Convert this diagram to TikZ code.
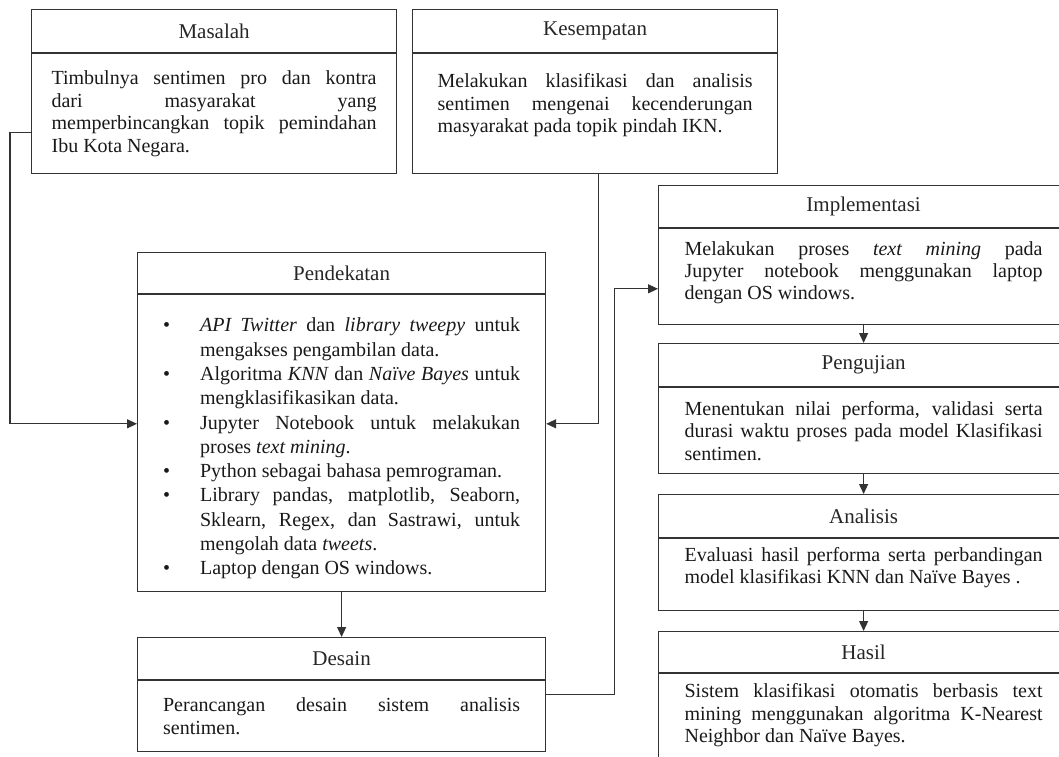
\documentclass[tikz,border=0pt]{standalone}
\usepackage{fontspec}
\setmainfont{Liberation Serif}
\usepackage{enumitem}
\usetikzlibrary{arrows.meta,calc,positioning}

\tikzset{
  head/.style={draw=black!80, line width=1.2pt, anchor=north west, minimum width=#1,
    minimum height=43pt, inner sep=0pt, text=black!85, font=\fontsize{21}{24}\selectfont},
  body/.style={draw=black!80, line width=1.2pt, anchor=north, text width=#1, inner ysep=0pt,
    align=justify, text=black!90, font=\fontsize{20}{22.4}\selectfont},
  lift/.style={execute at end node={\par\vspace*{#1}}},
  arr/.style={draw=black!80, line width=1.2pt, -{Triangle[length=10pt,width=9pt]}}
}

\begin{document}
\begin{tikzpicture}[x=1pt, y=-1pt]
  \useasboundingbox (0,0) rectangle (1059,756);
  \clip (0,0) rectangle (1059,756);

  % Masalah
  \node[head=365pt] (masalah) at (31,9) {Masalah};
  \node[body=325pt, inner xsep=20pt, minimum height=120pt] (masalahtxt) at (masalah.south)
    {Timbulnya sentimen pro dan kontra\linebreak dari masyarakat yang\linebreak
     memperbincangkan topik pemindahan\linebreak Ibu Kota Negara.};

  % Kesempatan
  \node[head=365pt] (kesempatan) at (412,9) {Kesempatan};
  \node[body=315pt, inner xsep=25pt, minimum height=120pt, lift=17pt] (kesempatantxt) at (kesempatan.south)
    {Melakukan klasifikasi dan analisis\linebreak sentimen mengenai kecenderungan\linebreak
     masyarakat pada topik pindah IKN.};

  % Pendekatan
  \node[head=408pt, minimum height=41pt] (pendekatan) at (137,252) {Pendekatan};
  \node[body=357pt, inner xsep=25.5pt, minimum height=297pt,
    font=\fontsize{20}{24.3}\selectfont] (pendekatantxt) at (pendekatan.south)
    {\begin{itemize}[leftmargin=37pt, labelwidth=10pt, labelsep=27pt, align=left, nosep]
      \item \textit{API Twitter} dan \textit{library tweepy} untuk\linebreak mengakses pengambilan data.
      \item Algoritma \textit{KNN} dan \textit{Naïve Bayes} untuk\linebreak mengklasifikasikan data.
      \item Jupyter Notebook untuk melakukan\linebreak proses \textit{text mining}.
      \item Python sebagai bahasa pemrograman.
      \item Library pandas, matplotlib, Seaborn,\linebreak Sklearn, Regex, dan Sastrawi, untuk\linebreak
            mengolah data \textit{tweets}.
      \item Laptop dengan OS windows.
     \end{itemize}};

  % Desain
  \node[head=408pt, minimum height=42pt] (desain) at (137,637) {Desain};
  \node[body=357pt, inner xsep=25.5pt, minimum height=71pt] (desaintxt) at (desain.south)
    {\rightskip=16pt Perancangan desain sistem analisis\linebreak sentimen.};

  % Implementasi
  \node[head=410pt, minimum height=42pt] (implementasi) at (658,185) {Implementasi};
  \node[body=358pt, inner xsep=26pt, minimum height=96pt, lift=8pt] (implementasitxt) at (implementasi.south)
    {\rightskip=16pt Melakukan proses \textit{text mining} pada\linebreak
     Jupyter notebook menggunakan laptop\linebreak dengan OS windows.};

  % Pengujian
  \node[head=410pt] (pengujian) at (658,343) {Pengujian};
  \node[body=358pt, inner xsep=26pt, minimum height=86pt] (pengujiantxt) at (pengujian.south)
    {Menentukan nilai performa, validasi serta\linebreak
     durasi waktu proses pada model Klasifikasi\linebreak sentimen.};

  % Analisis
  \node[head=410pt] (analisis) at (658,494) {Analisis};
  \node[body=358pt, inner xsep=26pt, minimum height=72pt, lift=14pt] (analisistxt) at (analisis.south)
    {Evaluasi hasil performa serta perbandingan\linebreak
     model klasifikasi KNN dan Naïve Bayes .};

  % Hasil
  \node[head=410pt, minimum height=41pt] (hasil) at (658,631) {Hasil};
  \node[body=358pt, inner xsep=26pt, minimum height=120pt, lift=37pt] (hasiltxt) at (hasil.south)
    {Sistem klasifikasi otomatis berbasis text\linebreak
     mining menggunakan algoritma K-Nearest\linebreak Neighbor dan Naïve Bayes.};

  % alur
  \draw[arr] ([yshift=-19pt]masalahtxt.west) -- ++(-21,0) |- ([yshift=19.5pt]pendekatantxt.west);
  \draw[arr] ([xshift=3pt]kesempatantxt.south) |- ([yshift=19.5pt]pendekatantxt.east);
  \draw[arr] (pendekatantxt.south) -- (desain.north);
  \draw[arr] ([yshift=21.5pt]desaintxt.east) -- ++(68,0) |- ([yshift=-12pt]implementasitxt.west);
  \draw[arr] (implementasitxt.south) -- (pengujian.north);
  \draw[arr] (pengujiantxt.south) -- (analisis.north);
  \draw[arr] (analisistxt.south) -- (hasil.north);
\end{tikzpicture}
\end{document}
